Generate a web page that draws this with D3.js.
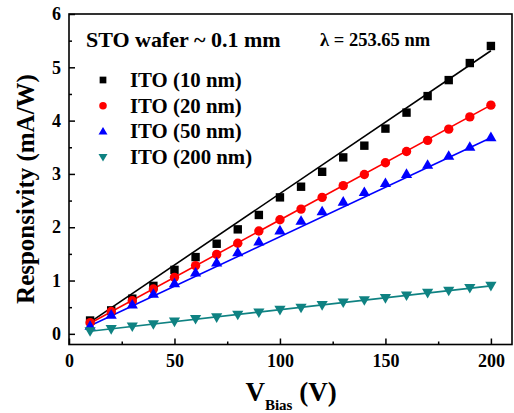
<!DOCTYPE html>
<html><head><meta charset="utf-8">
<script src="https://cdn.jsdelivr.net/npm/d3@7"></script>
<style>
html,body{margin:0;padding:0;background:#fff;}
svg{display:block;}
svg text{font-family:"Liberation Serif","Times New Roman",Tinos,"DejaVu Serif",serif;font-weight:bold;fill:#000;}
</style></head>
<body>
<script>
const voltages = [10,20,30,40,50,60,70,80,90,100,110,120,130,140,150,160,170,180,190,200];
const ito10  = [0.25,0.44,0.66,0.9,1.2,1.44,1.69,1.96,2.23,2.56,2.76,3.04,3.31,3.53,3.85,4.15,4.46,4.76,5.08,5.4];
const ito20  = [0.21,0.42,0.62,0.84,1.06,1.28,1.49,1.7,1.93,2.14,2.34,2.56,2.78,2.99,3.21,3.42,3.63,3.84,4.07,4.29];
const ito50  = [0.15,0.36,0.55,0.75,0.95,1.15,1.34,1.53,1.73,1.94,2.12,2.3,2.48,2.66,2.83,3.0,3.17,3.34,3.51,3.69];
const ito200 = [0.05,0.09,0.14,0.18,0.23,0.28,0.31,0.36,0.4,0.45,0.49,0.54,0.59,0.63,0.67,0.72,0.77,0.81,0.86,0.9];
// linear-fit lines: [start value at 10 V, end value at 200 V]
const fit10 = [0.22,5.31], fit20 = [0.2,4.29], fit50 = [0.15,3.68], fit200 = [0.05,0.9];
const fitX = [10,200];
const seriesNames = ["ITO (10 nm)","ITO (20 nm)","ITO (50 nm)","ITO (200 nm)"];
const xTicks = [0,50,100,150,200];
const xMinor = [25,75,125,175];
const yTicks = [0,1,2,3,4,5,6];
const yMinor = [0.5,1.5,2.5,3.5,4.5,5.5];

const W=514,H=413;
const svg=d3.select("body").append("svg").attr("width",W).attr("height",H);
const x=d3.scaleLinear().domain([0,210]).range([69,512]);
const y=d3.scaleLinear().domain([-0.2,6]).range([344.5,14]);

const series=[
 {name:seriesNames[0],vals:ito10,fit:fit10,color:"#000000",shape:"square"},
 {name:seriesNames[1],vals:ito20,fit:fit20,color:"#ff0000",shape:"circle"},
 {name:seriesNames[2],vals:ito50,fit:fit50,color:"#0000ff",shape:"up"},
 {name:seriesNames[3],vals:ito200,fit:fit200,color:"#0f8282",shape:"down"}
];
function marker(g,shape,color,k){
  if(shape==="square") g.append("rect").attr("x",-4.2*k).attr("y",-4.2*k).attr("width",8.4*k).attr("height",8.4*k).attr("fill",color);
  else if(shape==="circle") g.append("circle").attr("r",4.7*k).attr("fill",color);
  else if(shape==="up") g.append("path").attr("d",`M0,${-5.6*k}L${5.6*k},${4*k}L${-5.6*k},${4*k}Z`).attr("fill",color);
  else g.append("path").attr("d",`M0,${5.6*k}L${5.6*k},${-4*k}L${-5.6*k},${-4*k}Z`).attr("fill",color);
}

const line=d3.line().x(d=>x(d[0])).y(d=>y(d[1]));
series.forEach(s=>{
  svg.append("path").attr("d",line(fitX.map((v,i)=>[v,s.fit[i]])))
    .attr("stroke",s.color).attr("stroke-width",1.6).attr("fill","none");
});
series.forEach(s=>{
  voltages.forEach((v,i)=>{
    const g=svg.append("g").attr("transform",`translate(${x(v)},${y(s.vals[i])})`);
    marker(g,s.shape,s.color,1);
  });
});

svg.append("rect").attr("x",x(0)).attr("y",y(6)).attr("width",x(210)-x(0)).attr("height",y(-0.2)-y(6))
  .attr("fill","none").attr("stroke","#000").attr("stroke-width",1.6);

const xa=svg.append("g").attr("transform",`translate(0,${y(-0.2)})`)
  .call(d3.axisBottom(x).tickValues(xTicks).tickSize(-6).tickPadding(10).tickFormat(d3.format("d")));
const xm=svg.append("g").attr("transform",`translate(0,${y(-0.2)})`)
  .call(d3.axisBottom(x).tickValues(xMinor).tickSize(-3).tickFormat(""));
const ya=svg.append("g").attr("transform",`translate(${x(0)},0)`)
  .call(d3.axisLeft(y).tickValues(yTicks).tickSize(-6).tickPadding(8).tickFormat(d3.format("d")));
const ym=svg.append("g").attr("transform",`translate(${x(0)},0)`)
  .call(d3.axisLeft(y).tickValues(yMinor).tickSize(-3).tickFormat(""));
[xa,xm,ya,ym].forEach(g=>{
  g.select(".domain").remove();
  g.attr("font-family",null).attr("font-size",null);
  g.selectAll("line").attr("stroke","#000").attr("stroke-width",1.5);
  g.selectAll("text").style("font-size","18px");
});

svg.append("text").attr("x",86).attr("y",47).style("font-size","22px").text("STO wafer ~ 0.1 mm");
svg.append("text").attr("x",320).attr("y",46).style("font-size","18.5px").text("λ = 253.65 nm");

series.forEach((s,i)=>{
  const yy=80+i*25.7;
  const g=svg.append("g").attr("transform",`translate(103,${yy})`);
  marker(g,s.shape,s.color,0.8);
  svg.append("text").attr("x",130).attr("y",yy+6.8).style("font-size","20.8px").text(s.name);
});

svg.append("text").attr("transform","translate(34,189) rotate(-90)").attr("text-anchor","middle")
  .style("font-size","25px").text("Responsivity (mA/W)");
const xt=svg.append("text").attr("x",291).attr("y",401).attr("text-anchor","middle").style("font-size","27px");
xt.append("tspan").text("V");
xt.append("tspan").style("font-size","15px").attr("dy",9).text("Bias");
xt.append("tspan").attr("dy",-9).text(" (V)");
</script>
</body></html>
